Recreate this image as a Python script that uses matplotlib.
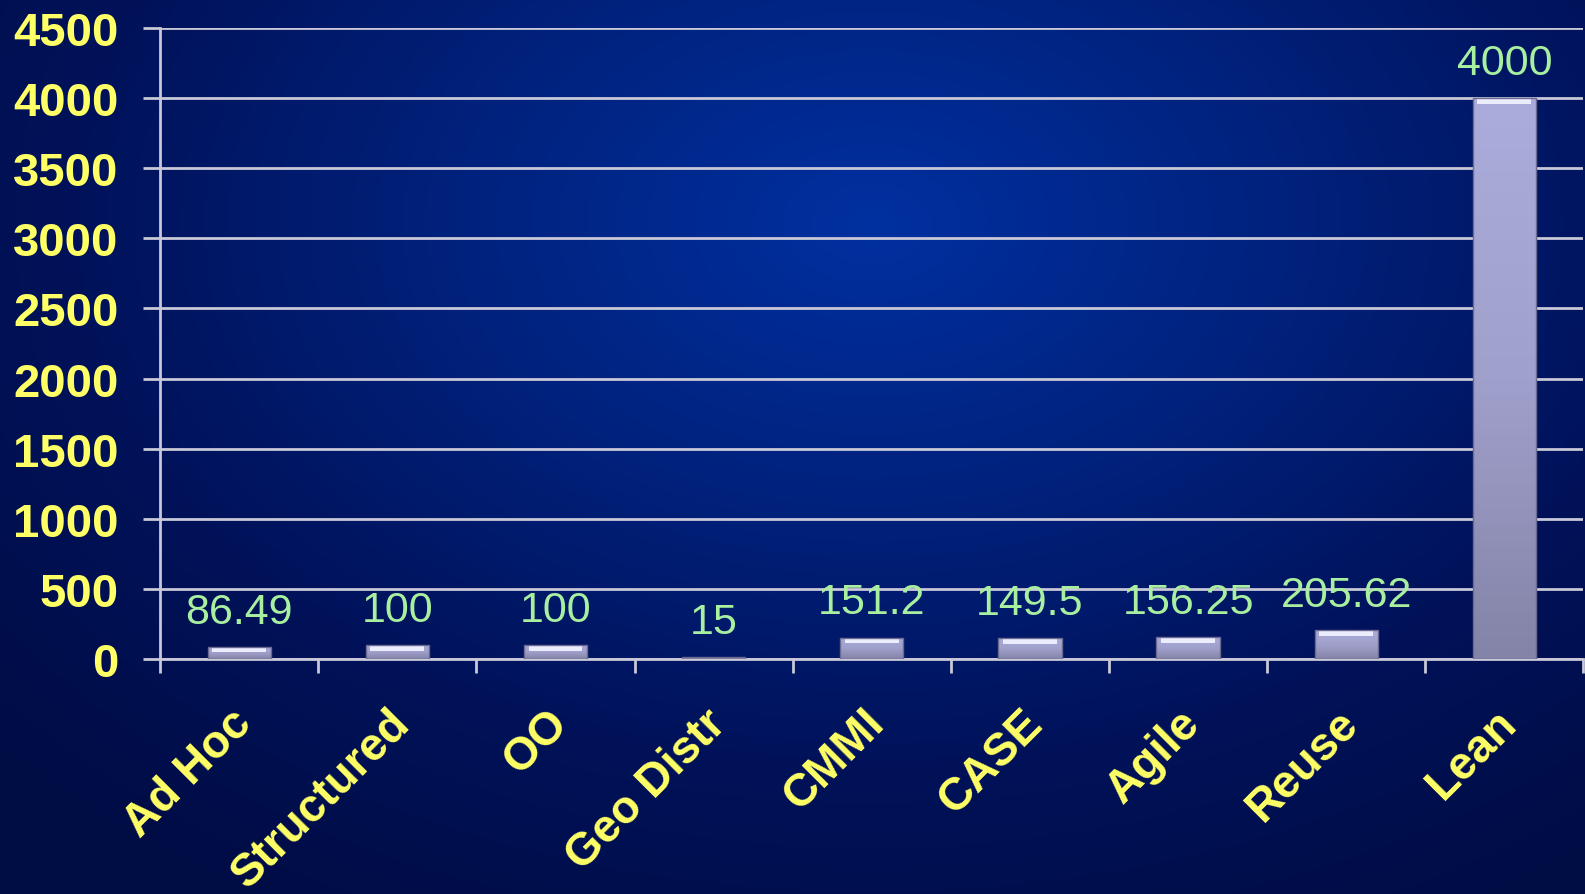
import numpy as np
from matplotlib import pyplot as plt
from matplotlib.colors import LinearSegmentedColormap
from matplotlib.transforms import ScaledTranslation

categories = ["Ad Hoc", "Structured", "OO", "Geo Distr", "CMMI", "CASE", "Agile", "Reuse", "Lean"]
values = [86.49, 100, 100, 15, 151.2, 149.5, 156.25, 205.62, 4000]
labels = ["86.49", "100", "100", "15", "151.2", "149.5", "156.25", "205.62", "4000"]
yticks = [0, 500, 1000, 1500, 2000, 2500, 3000, 3500, 4000, 4500]

yellow = "#ffff66"
green = "#a8f0a0"
grid_col = "#c8c8d8"

plt.rcParams['font.family'] = ['Liberation Sans', 'DejaVu Sans']

fig = plt.figure(figsize=(15.85, 8.95), dpi=100)

# radial blue background
bg = fig.add_axes([0, 0, 1, 1], zorder=-10)
yy, xx = np.mgrid[0:1:300j, 0:1:530j]
r = np.sqrt(((xx - 0.55) / 0.75) ** 2 + ((yy - 0.25) / 0.9) ** 2)
bg_cmap = LinearSegmentedColormap.from_list("bg", ["#0030a0", "#00227e", "#00125a", "#000c44"])
bg.imshow(np.clip(r, 0, 1), cmap=bg_cmap, aspect="auto", extent=[0, 1, 1, 0])
bg.axis("off")

ax = fig.add_axes([0.101, 0.2626, 0.898, 0.705])
ax.patch.set_alpha(0)

x = np.arange(len(categories))
bars = ax.bar(x, values, width=0.4, color="#9c9cc8", zorder=3)

# vertical gradient + bevel on each bar
bar_cmap = LinearSegmentedColormap.from_list("bar", ["#8484a8", "#a0a0cc", "#acacdc"])
grad = np.linspace(0, 1, 100).reshape(-1, 1)
for b in bars:
    x0, w, h = b.get_x(), b.get_width(), b.get_height()
    im = ax.imshow(grad, cmap=bar_cmap, aspect="auto", origin="lower",
                   extent=[x0, x0 + w, 0, h], zorder=3)
    im.set_clip_path(b)
    cap = min(h * 0.5, 40)
    ax.bar(x0 + w / 2, cap, width=w * 0.85, bottom=h - cap, color="#ececff",
           zorder=4, linewidth=0)
    ax.bar(x0 + w / 2, h, width=w, color="none", edgecolor="#6a6a90",
           linewidth=1, zorder=5)

for xi, v, lab in zip(x, values, labels):
    ax.annotate(lab, (xi, v), xytext=(0, 11), textcoords="offset points",
                ha="center", va="bottom", color=green, fontsize=31)

ax.set_xlim(-0.5, len(categories) - 0.5)
ax.set_ylim(0, 4500)
ax.set_yticks(yticks)
ax.set_yticklabels([str(t) for t in yticks], color=yellow, fontsize=34, fontweight="bold")
ax.yaxis.grid(True, color=grid_col, linewidth=2, zorder=1)
ax.tick_params(axis="y", length=12, width=2, color=grid_col, pad=18)

ax.set_xticks(x)
ax.set_xticklabels(categories, rotation=45, ha="right", rotation_mode="anchor",
                   color=yellow, fontsize=33, fontweight="bold")
ax.tick_params(axis="x", which="major", length=0, pad=30)
shift = ScaledTranslation(-0.1, 0, fig.dpi_scale_trans)
for t in ax.get_xticklabels():
    t.set_transform(t.get_transform() + shift)
ax.set_xticks(np.arange(-0.5, len(categories)), minor=True)
ax.tick_params(axis="x", which="minor", length=10, width=2, color=grid_col)

for side in ["top", "right"]:
    ax.spines[side].set_visible(False)
for side in ["left", "bottom"]:
    ax.spines[side].set_color(grid_col)
    ax.spines[side].set_linewidth(2)

plt.savefig("out.png", dpi=100)
plt.close(fig)
